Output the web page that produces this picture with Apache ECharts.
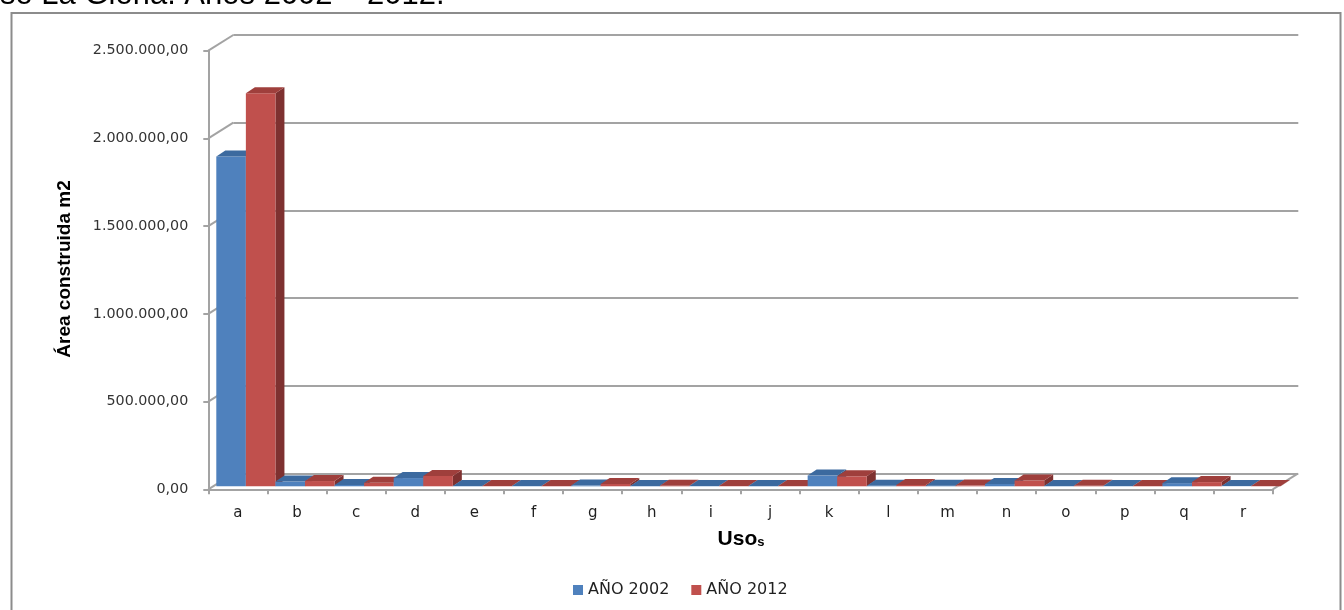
<!DOCTYPE html>
<html>
<head>
<meta charset="utf-8">
<script src="https://cdn.jsdelivr.net/npm/echarts@6/dist/echarts.min.js"></script>
<style>
  html, body { margin: 0; padding: 0; background: #ffffff; }
  #chart { width: 1344px; height: 610px; }
</style>
</head>
<body>
<div id="chart"></div>
<script>
// Área construida por uso, 2002 frente a 2012
const categories = ['a', 'b', 'c', 'd', 'e', 'f', 'g', 'h', 'i', 'j', 'k', 'l', 'm', 'n', 'o', 'p', 'q', 'r'];
const area2002 = [1880000, 27000, 8000, 47000, 2000, 1500, 4000, 2000, 1500, 2000, 61000, 2500, 3500, 13000, 2000, 1500, 18000, 1000];
const area2012 = [2240000, 30000, 20000, 59000, 1500, 2000, 13000, 2500, 1500, 1500, 57000, 8000, 4000, 33000, 2500, 2000, 24000, 1500];
const seriesNames = ['AÑO 2002', 'AÑO 2012'];
const yTicks = [0, 500000, 1000000, 1500000, 2000000, 2500000];
const titleText = 'so La Gloria. Años 2002 – 2012.';

// plot box geometry: front plane and the back wall it recedes to
const FRONT = { left: 208.3, top: 50.7, width: 1064.4, height: 438.6 };
const BACK = { left: 233.3, top: 35, width: 1065, height: 438.6 };
const DX = BACK.left - FRONT.left;
const DY = BACK.top - FRONT.top;

// column faces
const FACES = [
  { front: '#4f81bd', top: '#3c6a9f', side: '#325a88' },
  { front: '#c0504d', top: '#9f3f3c', side: '#7e3130' }
];
const GRID_GREY = '#a3a3a3';

function fmtNum(v) {
  const s = Math.round(v).toString().replace(/\B(?=(\d{3})+(?!\d))/g, '.');
  return s + ',00';
}

function barItem(params, api) {
  const idx = api.value(0);
  const val = api.value(1);
  const s = api.value(2);
  const p0 = api.coord([idx, 0]);
  const p1 = api.coord([idx, val]);
  const cw = api.size([1, 0])[0];
  const bw = cw / 2;
  const lift = 3;                 // columns stand a little behind the front edge
  const x = p0[0] - cw / 2 + 8 + s * bw;
  const yb = p0[1] - lift;
  const yt = p1[1] - lift;
  const dx = 9, dy = -6;          // column depth
  const f = FACES[s];
  return {
    type: 'group',
    children: [
      { type: 'polygon', shape: { points: [[x + bw, yb], [x + bw + dx, yb + dy], [x + bw + dx, yt + dy], [x + bw, yt]] }, style: { fill: f.side } },
      { type: 'rect', shape: { x: x, y: yt, width: bw, height: yb - yt }, style: { fill: f.front } },
      { type: 'polygon', shape: { points: [[x, yt], [x + dx, yt + dy], [x + bw + dx, yt + dy], [x + bw, yt]] }, style: { fill: f.top } }
    ]
  };
}

// depth edges: from each front tick back to the wall, plus the floor's right edge
function edgeItem(params, api) {
  const cs = params.coordSys;
  const kind = api.value(0);
  const y = api.coord([0, api.value(1)])[1];
  const x0 = kind === 0 ? cs.x : cs.x + cs.width;
  return {
    type: 'line',
    shape: { x1: x0, y1: y, x2: x0 + DX, y2: y + DY },
    style: { stroke: GRID_GREY, lineWidth: 2 }
  };
}

const barData = [];
categories.forEach(function (c, i) {
  barData.push([i, area2002[i], 0]);
  barData.push([i, area2012[i], 1]);
});

const edgeData = yTicks.map(function (v) { return [0, v]; }).concat([[1, 0]]);

const chart = echarts.init(document.getElementById('chart'), null, { renderer: 'canvas' });

chart.setOption({
  backgroundColor: '#ffffff',
  animation: false,
  textStyle: { fontFamily: 'DejaVu Sans' },
  grid: [
    { left: BACK.left, top: BACK.top, width: BACK.width, height: BACK.height },
    { left: FRONT.left, top: FRONT.top, width: FRONT.width, height: FRONT.height }
  ],
  xAxis: [
    { type: 'category', gridIndex: 0, data: categories, show: false },
    {
      type: 'category', gridIndex: 1, data: categories,
      axisLine: { lineStyle: { color: GRID_GREY, width: 2 } },
      axisTick: { show: true, length: 5, lineStyle: { color: GRID_GREY, width: 2 } },
      axisLabel: { color: '#1f1f1f', fontSize: 15, margin: 16, fontFamily: 'DejaVu Sans' },
      splitLine: { show: false }
    }
  ],
  yAxis: [
    {
      type: 'value', gridIndex: 0, min: 0, max: 2500000, interval: 500000,
      axisLine: { show: false }, axisTick: { show: false }, axisLabel: { show: false },
      splitLine: { show: true, lineStyle: { color: GRID_GREY, width: 2 } }
    },
    {
      type: 'value', gridIndex: 1, min: 0, max: 2500000, interval: 500000,
      axisLine: { show: true, lineStyle: { color: GRID_GREY, width: 2 } },
      axisTick: { show: true, length: 5, lineStyle: { color: GRID_GREY, width: 2 } },
      axisLabel: { color: '#333333', fontSize: 14.3, margin: 20, fontFamily: 'DejaVu Sans', formatter: fmtNum },
      splitLine: { show: false }
    }
  ],
  legend: {
    data: seriesNames.map(function (n, i) { return { name: n, icon: 'rect', itemStyle: { color: FACES[i].front } }; }),
    left: 568, top: 577,
    itemWidth: 10, itemHeight: 10, itemGap: 22,
    textStyle: { fontSize: 16, color: '#1f1f1f', fontFamily: 'DejaVu Sans' }
  },
  graphic: [
    {
      type: 'rect', left: 9, top: 10.5, z: -1,
      shape: { width: 1329, height: 640 },
      style: { fill: 'none', stroke: '#8c8c8c', lineWidth: 2 }
    },
    {
      type: 'text', left: 0, top: -20,
      style: { text: titleText, fill: '#000000', font: '31px "Liberation Sans"' }
    },
    {
      type: 'text', x: 65, y: 269, rotation: Math.PI / 2,
      style: { text: 'Área construida m2', fill: '#000000', font: 'bold 19px "Liberation Sans"', align: 'center', verticalAlign: 'middle' }
    },
    {
      type: 'text', x: 741, y: 539,
      style: {
        text: '{a|Uso}{b|s}', align: 'center', verticalAlign: 'middle',
        rich: {
          a: { font: 'bold 21px "Liberation Sans"', fill: '#000000', verticalAlign: 'bottom' },
          b: { font: 'bold 13px "Liberation Sans"', fill: '#000000', verticalAlign: 'bottom', padding: [0, 0, 1, 0] }
        }
      }
    }
  ],
  series: [
    { type: 'custom', name: 'edges', xAxisIndex: 1, yAxisIndex: 1, renderItem: edgeItem, data: edgeData, z: 1, silent: true },
    { type: 'custom', name: seriesNames[0], xAxisIndex: 1, yAxisIndex: 1, renderItem: barItem, itemStyle: { color: FACES[0].front },
      data: barData, encode: { x: 0, y: 1 }, z: 3 },
    { type: 'custom', name: seriesNames[1], xAxisIndex: 1, yAxisIndex: 1, renderItem: function () { return null; }, itemStyle: { color: FACES[1].front },
      data: [], z: 3 }
  ]
});
</script>
</body>
</html>
